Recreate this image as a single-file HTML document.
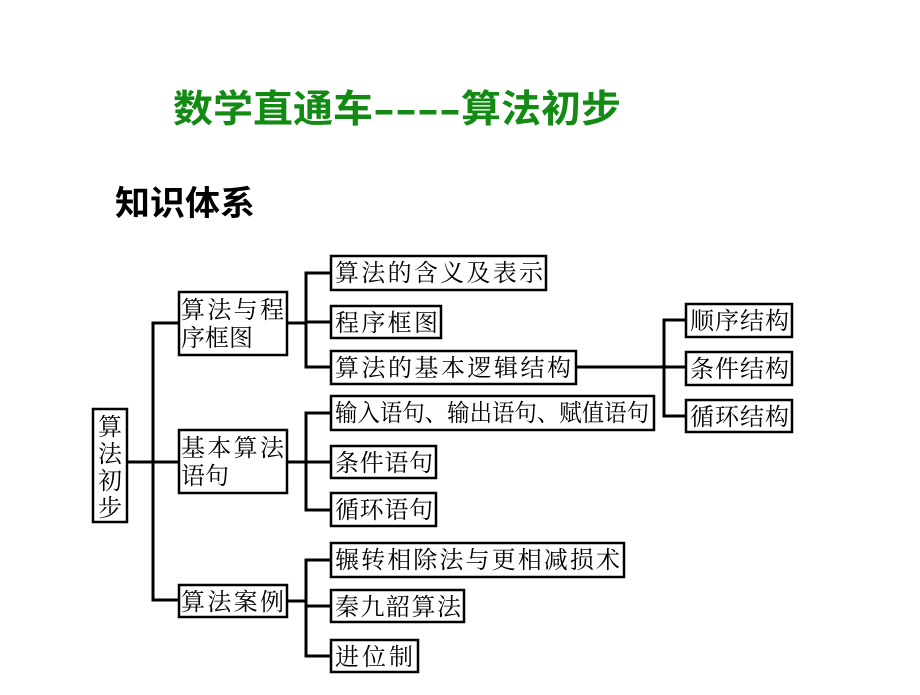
<!DOCTYPE html>
<html><head><meta charset="utf-8"><style>
body{margin:0;background:#fff;width:920px;height:690px;overflow:hidden}
svg text{font-family:"Liberation Serif","Noto Serif CJK SC",serif;font-size:24px;fill:#000}
</style></head><body>
<svg width="920" height="690" xmlns="http://www.w3.org/2000/svg">
<g style="font-size:38px;fill:#138a13;font-family:'Liberation Sans','Noto Sans CJK SC',sans-serif;font-weight:bold">
<text x="173" y="122" textLength="200" lengthAdjust="spacingAndGlyphs" style="font-size:38px;fill:#138a13;font-weight:bold;font-family:'Liberation Sans','Noto Sans CJK SC',sans-serif">数学直通车</text>
<text x="373" y="122" textLength="88" lengthAdjust="spacingAndGlyphs" style="font-size:38px;fill:#138a13;font-weight:bold;font-family:'Liberation Sans',sans-serif">----</text>
<text x="461" y="122" textLength="160" lengthAdjust="spacingAndGlyphs" style="font-size:38px;fill:#138a13;font-weight:bold;font-family:'Liberation Sans','Noto Sans CJK SC',sans-serif">算法初步</text>
</g>
<text x="115" y="215" textLength="140" lengthAdjust="spacingAndGlyphs" style="font-size:34px;font-weight:bold;font-family:'Liberation Sans','Noto Sans CJK SC',sans-serif">知识体系</text>
<g stroke="#000" stroke-width="3" fill="none">
<line x1="128" y1="462" x2="179" y2="462"/>
<polyline points="179,323 153,323 153,600 179,600"/>
<line x1="287" y1="323" x2="306" y2="323"/>
<polyline points="331,273 306,273 306,367 331,367"/>
<line x1="306" y1="322" x2="331" y2="322"/>
<line x1="287" y1="462" x2="306" y2="462"/>
<polyline points="331,413 306,413 306,510 331,510"/>
<line x1="306" y1="462" x2="331" y2="462"/>
<line x1="287" y1="601" x2="306" y2="601"/>
<polyline points="331,560 306,560 306,656 331,656"/>
<line x1="306" y1="606" x2="331" y2="606"/>
<line x1="576" y1="367" x2="686" y2="367"/>
<polyline points="686,320 664,320 664,416 686,416"/>
</g>
<g stroke="#000" stroke-width="2.5" fill="#fff">
<rect x="93" y="409" width="34" height="113"/>
<rect x="179" y="292" width="108" height="63"/>
<rect x="179" y="430" width="108" height="63"/>
<rect x="179" y="585" width="108" height="32"/>
<rect x="331" y="256" width="215" height="34"/>
<rect x="331" y="306" width="110" height="32"/>
<rect x="331" y="351" width="245" height="33"/>
<rect x="331" y="396" width="323" height="34"/>
<rect x="331" y="446" width="105" height="32"/>
<rect x="331" y="493" width="105" height="33"/>
<rect x="331" y="543" width="293" height="34"/>
<rect x="331" y="590" width="133" height="32"/>
<rect x="331" y="640" width="87" height="32"/>
<rect x="686" y="304" width="106" height="33"/>
<rect x="686" y="352" width="106" height="33"/>
<rect x="686" y="400" width="106" height="32"/>
</g>
<text x="98" y="435">算</text><text x="98" y="462">法</text><text x="98" y="489">初</text><text x="98" y="516">步</text>
<text x="181" y="318" textLength="103">算法与程</text><text x="181" y="346">序框图</text>
<text x="181" y="456" textLength="103">基本算法</text><text x="181" y="484">语句</text>
<text x="181" y="610" textLength="103">算法案例</text>
<text x="335" y="281" textLength="208">算法的含义及表示</text>
<text x="335" y="331" textLength="103">程序框图</text>
<text x="335" y="376" textLength="236">算法的基本逻辑结构</text>
<text x="335" y="421" textLength="314" lengthAdjust="spacingAndGlyphs">输入语句、输出语句、赋值语句</text>
<text x="335" y="471" textLength="98">条件语句</text>
<text x="335" y="518" textLength="98">循环语句</text>
<text x="335" y="568" textLength="285">辗转相除法与更相减损术</text>
<text x="335" y="615" textLength="126">秦九韶算法</text>
<text x="335" y="665" textLength="78">进位制</text>
<text x="690" y="329" textLength="99">顺序结构</text>
<text x="690" y="377" textLength="99">条件结构</text>
<text x="690" y="425" textLength="99">循环结构</text>
</svg>
</body></html>
